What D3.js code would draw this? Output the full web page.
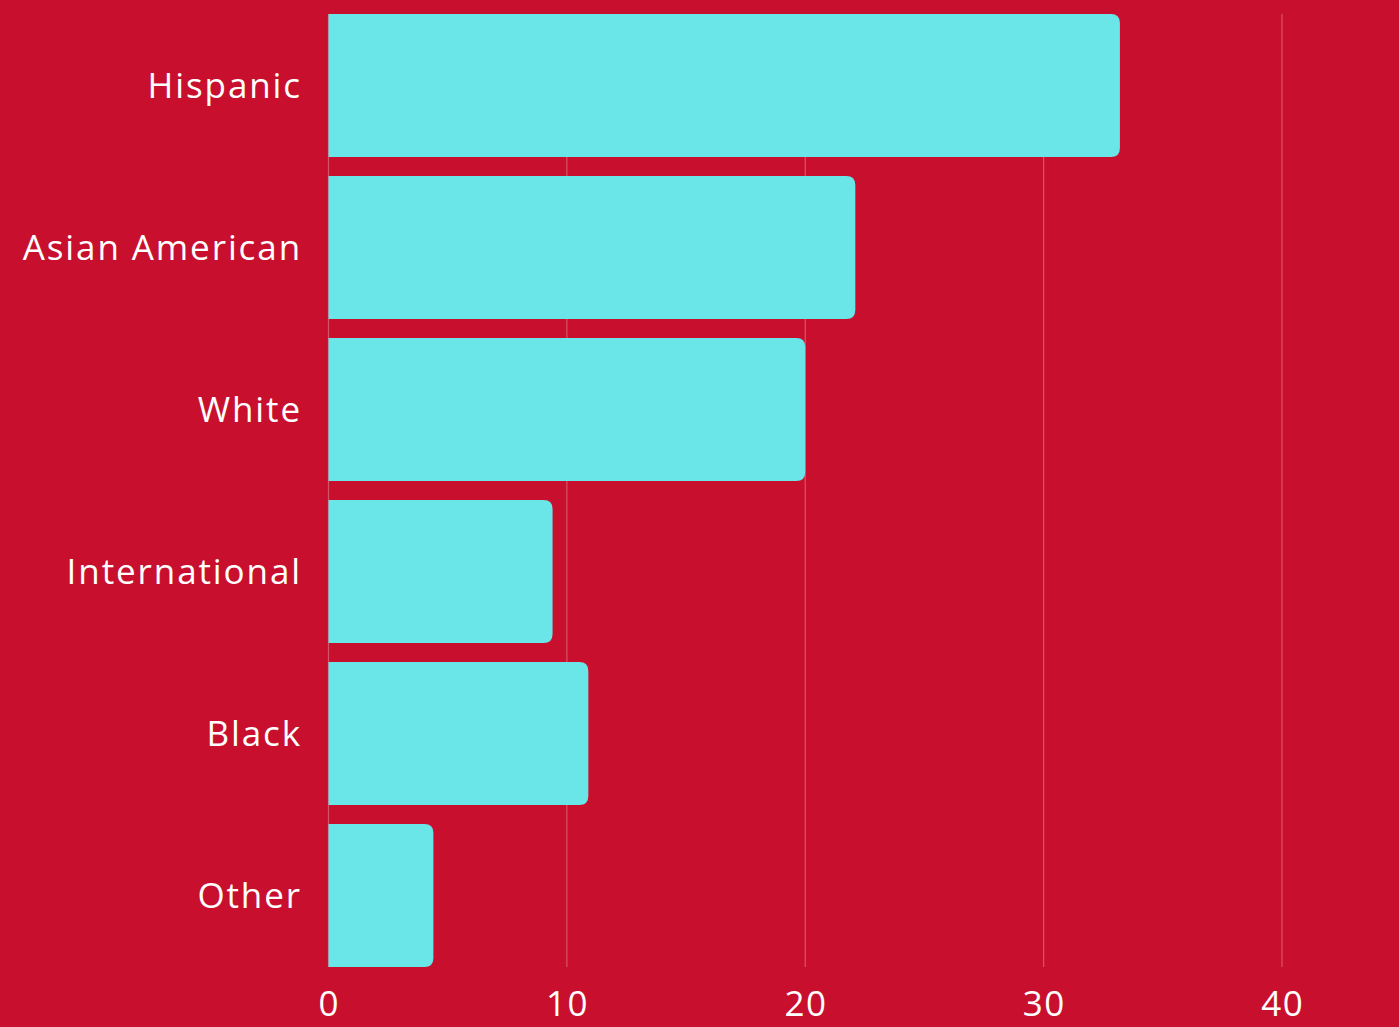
<!DOCTYPE html>
<html><head><meta charset="utf-8">
<script src="https://cdn.jsdelivr.net/npm/d3@7"></script>
<style>html,body{margin:0;padding:0;background:#c8102e;overflow:hidden}</style>
</head><body>
<svg id="c" width="1399" height="1027"></svg>
<script>
const categories = ["Hispanic","Asian American","White","International","Black","Other"];
const values = [33.2, 22.1, 20.0, 9.4, 10.9, 4.4];
const ticks = [0,10,20,30,40];

const svg = d3.select("#c");
svg.append("rect").attr("width",1399).attr("height",1027).attr("fill","#c8102e");
const x = d3.scaleLinear().domain([0,40]).range([328.5,1282]);
const y = d3.scaleBand().domain(categories).range([14,967]).paddingInner(0.117).paddingOuter(0);

svg.append("g").selectAll("line").data(ticks).join("line")
  .attr("x1",d=>x(d)).attr("x2",d=>x(d)).attr("y1",14).attr("y2",967)
  .attr("stroke","rgba(255,255,255,0.28)").attr("stroke-width",1.2);

const r = 9;
svg.append("g").selectAll("path").data(categories).join("path")
  .attr("fill","#6ae6e9")
  .attr("d",(c,i)=>{
    const x0=x(0), x1=x(values[i]), y0=y(c), h=y.bandwidth();
    return `M${x0},${y0}H${x1-r}Q${x1},${y0} ${x1},${y0+r}V${y0+h-r}Q${x1},${y0+h} ${x1-r},${y0+h}H${x0}Z`;
  });

svg.append("g").selectAll("text").data(categories).join("text")
  .attr("x",302).attr("y",c=>y(c)+y.bandwidth()/2).attr("dy","0.35em")
  .attr("text-anchor","end").attr("fill","#fff")
  .attr("font-family","Open Sans, sans-serif").attr("font-size",35)
  .attr("letter-spacing",1.9)
  .text(c=>c);

svg.append("g").selectAll("text").data(ticks).join("text")
  .attr("x",d=>x(d)+0.75).attr("y",1016).attr("text-anchor","middle").attr("fill","#fff")
  .attr("font-family","Open Sans, sans-serif").attr("font-size",35)
  .attr("letter-spacing",1.5)
  .text(d=>d);
</script>
</body></html>
